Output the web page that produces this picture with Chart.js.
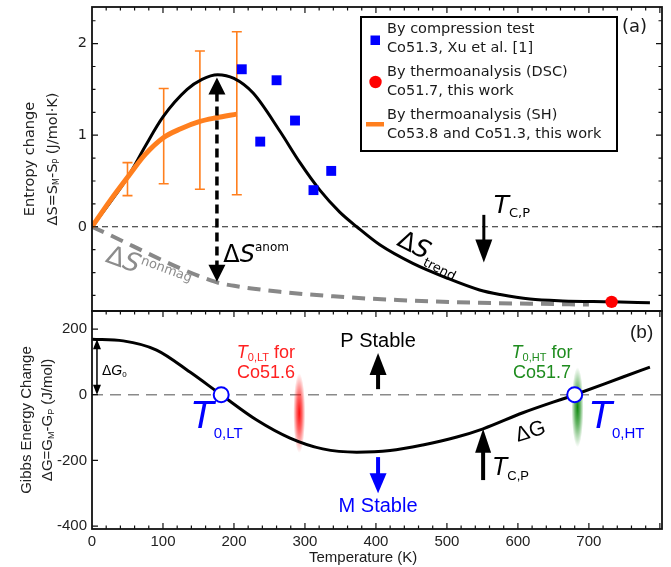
<!DOCTYPE html>
<html>
<head>
<meta charset="utf-8">
<script src="https://cdn.jsdelivr.net/npm/chart.js@4.4.0/dist/chart.umd.min.js"></script>
<style>
  body { margin: 0; background: #fff; }
  #wrap { position: relative; width: 671px; height: 567px; }
  canvas { position: absolute; left: 0; }
</style>
</head>
<body>
<div id="wrap">
  <canvas id="chartA" width="671" height="312" style="top:0"></canvas>
  <canvas id="chartB" width="671" height="257" style="top:310px"></canvas>
</div>
<script>
'use strict'

// (a) entropy change, J/mol.K against temperature, K
const trendT = [0, 25, 51, 75, 100, 134, 155, 177, 200, 227, 265, 293, 321, 349, 373, 406, 452, 500, 546, 575, 617, 663, 732, 786];
const trendS = [0, 0.26, 0.55, 0.88, 1.2, 1.5, 1.61, 1.66, 1.62, 1.46, 1.04, 0.70, 0.40, 0.16, 0, -0.20, -0.40, -0.56, -0.69, -0.74, -0.79, -0.81, -0.82, -0.83];
const nonmagT = [0, 173, 200, 265, 340, 430, 546, 617, 700];
const nonmagS = [0, -0.60, -0.645, -0.71, -0.76, -0.80, -0.83, -0.84, -0.85];
const shT = [0, 25, 51, 75, 100, 125, 152, 175, 204];
const shS = [0, 0.28, 0.55, 0.79, 0.97, 1.07, 1.15, 1.19, 1.23];
const errT = [50, 101, 152, 204];
const errLow = [0.34, 0.47, 0.41, 0.35];
const errHigh = [0.70, 1.51, 1.92, 2.13];
const compT = [211, 237, 260, 286, 312, 337];
const compS = [1.72, 0.93, 1.60, 1.16, 0.40, 0.61];
const dscT = [732];
const dscS = [-0.82];

// (b) Gibbs energy change, J/mol
const gibbsT = [0, 44, 91, 138, 182, 232, 279, 325, 373, 420, 466, 514, 551, 607, 680, 748, 786];
const gibbsG = [169, 164, 136, 69, 0, -77, -132, -165, -175, -170, -153, -129, -104, -55, 0, 54, 84];
const t0T = [182, 680];
const t0G = [0, 0];

const xTicks = [0, 100, 200, 300, 400, 500, 600, 700];
const yTicksA = [0, 1, 2];
const yTicksB = [-400, -200, 0, 200];

const FA = '"DejaVu Sans", sans-serif';
const FB = '"Liberation Sans", Arial, sans-serif';
const ORANGE = '#ff7f1e';
const BLUE = '#0000ff';

function pts(xs, ys) {
  return xs.map((v, i) => ({ x: v, y: ys[i] }));
}

function noPad(s) {
  s.paddingTop = 0;
  s.paddingBottom = 0;
  s.paddingLeft = 0;
  s.paddingRight = 0;
}

function rich(ctx, x, y, parts, align) {
  // parts: [text, font, dy]
  let w = 0;
  for (const p of parts) { ctx.font = p[1]; w += ctx.measureText(p[0]).width; }
  let cx = align === 'center' ? x - w / 2 : x;
  ctx.textAlign = 'left';
  ctx.textBaseline = 'alphabetic';
  for (const p of parts) {
    ctx.font = p[1];
    ctx.fillText(p[0], cx, y + (p[2] || 0));
    cx += ctx.measureText(p[0]).width;
  }
}

function rotRich(ctx, x, y, ang, dy, parts, color) {
  ctx.save();
  ctx.translate(x, y);
  ctx.rotate(ang);
  ctx.fillStyle = color;
  rich(ctx, 0, dy, parts, 'center');
  ctx.restore();
}

function head(ctx, tx, ty, bx, by, hw) {
  const a = Math.atan2(ty - by, tx - bx);
  ctx.beginPath();
  ctx.moveTo(tx, ty);
  ctx.lineTo(bx + hw * Math.sin(a), by - hw * Math.cos(a));
  ctx.lineTo(bx - hw * Math.sin(a), by + hw * Math.cos(a));
  ctx.closePath();
  ctx.fill();
}

function arrow(ctx, x1, y1, x2, y2, o) {
  const a = Math.atan2(y2 - y1, x2 - x1);
  const c = Math.cos(a), s = Math.sin(a);
  let sx = x1, sy = y1;
  if (o.both) { sx = x1 + (o.hl - 2) * c; sy = y1 + (o.hl - 2) * s; }
  const ex = x2 - (o.hl - 2) * c, ey = y2 - (o.hl - 2) * s;
  ctx.save();
  ctx.strokeStyle = o.color;
  ctx.fillStyle = o.color;
  ctx.lineWidth = o.lw;
  ctx.setLineDash(o.dash || []);
  ctx.beginPath();
  ctx.moveTo(sx, sy);
  ctx.lineTo(ex, ey);
  ctx.stroke();
  ctx.setLineDash([]);
  head(ctx, x2, y2, x2 - o.hl * c, y2 - o.hl * s, o.hw / 2);
  if (o.both) head(ctx, x1, y1, x1 + o.hl * c, y1 + o.hl * s, o.hw / 2);
  ctx.restore();
}

function blob(ctx, x, y, rx, ry, rgb) {
  ctx.save();
  ctx.translate(x, y);
  ctx.scale(rx / ry, 1);
  const g = ctx.createRadialGradient(0, 0, 0, 0, 0, ry);
  g.addColorStop(0, 'rgba(' + rgb + ',0.95)');
  g.addColorStop(0.45, 'rgba(' + rgb + ',0.6)');
  g.addColorStop(1, 'rgba(' + rgb + ',0)');
  ctx.fillStyle = g;
  ctx.beginPath();
  ctx.arc(0, 0, ry, 0, 2 * Math.PI);
  ctx.fill();
  ctx.restore();
}

function frame(chart, o) {
  const { ctx, chartArea: ca, scales: { x, y } } = chart;
  ctx.save();
  ctx.strokeStyle = '#111';
  ctx.lineWidth = 1.2;
  ctx.beginPath();
  for (let v = 20; v < x.max; v += 20) {
    const px = x.getPixelForValue(v);
    const len = v % 100 === 0 ? 6 : 3.5;
    if (o.top) { ctx.moveTo(px, ca.top); ctx.lineTo(px, ca.top + len); }
    if (o.bottom) { ctx.moveTo(px, ca.bottom); ctx.lineTo(px, ca.bottom - len); }
  }
  for (const t of o.yTicks) {
    const py = y.getPixelForValue(t.v);
    ctx.moveTo(ca.left, py); ctx.lineTo(ca.left + t.len, py);
    if (o.right) { ctx.moveTo(ca.right, py); ctx.lineTo(ca.right - t.len, py); }
  }
  ctx.stroke();
  ctx.lineWidth = 1.8;
  ctx.strokeRect(ca.left, ca.top, ca.right - ca.left, ca.bottom - ca.top);
  ctx.restore();
}

const panelA = {
  id: 'panelA',
  beforeDatasetsDraw(chart) {
    const { ctx, chartArea: ca, scales: { x, y } } = chart;
    ctx.save();
    ctx.strokeStyle = '#222';
    ctx.lineWidth = 1.1;
    ctx.setLineDash([6, 4]);
    ctx.beginPath();
    ctx.moveTo(ca.left, y.getPixelForValue(0));
    ctx.lineTo(ca.right, y.getPixelForValue(0));
    ctx.stroke();
    ctx.setLineDash([]);
    // error bars of the SH curve
    ctx.strokeStyle = ORANGE;
    ctx.lineWidth = 1.6;
    ctx.beginPath();
    for (let i = 0; i < errT.length; i++) {
      const px = x.getPixelForValue(errT[i]);
      const lo = y.getPixelForValue(errLow[i]), hi = y.getPixelForValue(errHigh[i]);
      ctx.moveTo(px, lo); ctx.lineTo(px, hi);
      ctx.moveTo(px - 5, lo); ctx.lineTo(px + 5, lo);
      ctx.moveTo(px - 5, hi); ctx.lineTo(px + 5, hi);
    }
    ctx.stroke();
    ctx.restore();
  },
  afterDatasetsDraw(chart) {
    const { ctx, scales: { x, y } } = chart;
    const X = v => x.getPixelForValue(v), Y = v => y.getPixelForValue(v);

    arrow(ctx, X(176), Y(1.63), X(176), Y(-0.60), { both: true, hl: 17, hw: 17, lw: 3.5, dash: [9, 5], color: '#000' });
    ctx.fillStyle = '#000';
    rich(ctx, X(185), Y(-0.385), [['Δ', '24px ' + FA], ['S', 'italic 24px ' + FA], ['anom', '12px ' + FA, -11]]);

    rotRich(ctx, X(80), Y(-0.45), 0.35, 9,
      [['Δ', '26px ' + FA], ['S', 'italic 26px ' + FA], ['nonmag', '13px ' + FA, -10]], '#8c8c8c');
    rotRich(ctx, X(476), Y(-0.275), 0.47, 9,
      [['Δ', '25px ' + FA], ['S', 'italic 25px ' + FA], ['trend', '13px ' + FA, 6]], '#000');

    arrow(ctx, X(552), Y(0.13), X(552), Y(-0.39), { hl: 23, hw: 17, lw: 3, color: '#000' });
    ctx.fillStyle = '#000';
    rich(ctx, X(566), Y(0.15), [['T', 'italic 25px ' + FA], ['C,P', '13px ' + FA, 4]]);
  },
  afterDraw(chart) {
    const { ctx, chartArea: ca } = chart;
    const yt = [];
    for (let v = -0.75; v <= 2.25; v += 0.25) yt.push({ v: v, len: Number.isInteger(v) ? 6 : 3.5 });
    frame(chart, { top: true, bottom: false, right: true, yTicks: yt });

    // legend
    ctx.save();
    ctx.lineWidth = 2;
    ctx.strokeStyle = '#000';
    ctx.strokeRect(361, 17, 256, 134);
    ctx.fillStyle = BLUE;
    ctx.fillRect(370.5, 35.5, 9.5, 9.5);
    ctx.fillStyle = '#ff0000';
    ctx.beginPath(); ctx.arc(375.5, 82, 6.2, 0, 2 * Math.PI); ctx.fill();
    ctx.fillStyle = ORANGE;
    ctx.fillRect(366, 122, 18, 4.5);
    ctx.fillStyle = '#1a1a1a';
    ctx.font = '14.5px ' + FA;
    ctx.textAlign = 'left';
    ctx.textBaseline = 'alphabetic';
    const lines = ['By compression test', 'Co51.3, Xu et al. [1]', 'By thermoanalysis (DSC)',
      'Co51.7, this work', 'By thermoanalysis (SH)', 'Co53.8 and Co51.3, this work'];
    const base = [33, 52, 76, 95, 119, 138];
    lines.forEach((t, i) => ctx.fillText(t, 387, base[i]));
    ctx.font = '18px ' + FA;
    ctx.fillText('(a)', ca.right - 40, 32);

    // y title
    ctx.translate(29, (ca.top + ca.bottom) / 2);
    ctx.rotate(-Math.PI / 2);
    ctx.fillStyle = '#222';
    rich(ctx, 0, 5, [['Entropy change', '14.5px ' + FA]], 'center');
    rich(ctx, 0, 28, [['ΔS=S', '14.5px ' + FA], ['M', '8px ' + FA, 2], ['-S', '14.5px ' + FA],
      ['P', '8px ' + FA, 2], [' (J/mol·K)', '14.5px ' + FA]], 'center');
    ctx.restore();
  }
};

const panelB = {
  id: 'panelB',
  beforeDatasetsDraw(chart) {
    const { ctx, chartArea: ca, scales: { x, y } } = chart;
    const X = v => x.getPixelForValue(v), Y = v => y.getPixelForValue(v);
    ctx.save();
    ctx.strokeStyle = '#8a8a8a';
    ctx.lineWidth = 1.5;
    ctx.setLineDash([11, 7]);
    ctx.beginPath();
    ctx.moveTo(ca.left, Y(0));
    ctx.lineTo(ca.right, Y(0));
    ctx.stroke();
    ctx.restore();
    blob(ctx, X(292), Y(-56), 6, 40, '255,0,0');
    blob(ctx, X(684), Y(-38), 6, 40, '0,130,0');
  },
  afterDatasetsDraw(chart) {
    const { ctx, scales: { x, y } } = chart;
    const X = v => x.getPixelForValue(v), Y = v => y.getPixelForValue(v);

    arrow(ctx, X(7), Y(169), X(7), Y(0), { both: true, hl: 10, hw: 8, lw: 1.5, color: '#000' });
    ctx.fillStyle = '#000';
    rich(ctx, X(14), Y(60), [['Δ', '14px ' + FB], ['G', 'italic 14px ' + FB], ['0', '8px ' + FB, 2]]);

    ctx.fillStyle = BLUE;
    rich(ctx, X(138), Y(-101), [['T', 'italic 39px ' + FB], ['0,LT', '15px ' + FB, 10]]);
    rich(ctx, X(699), Y(-101), [['T', 'italic 39px ' + FB], ['0,HT', '15px ' + FB, 10]]);

    ctx.fillStyle = '#ff2020';
    rich(ctx, X(245), Y(112), [['T', 'italic 18px ' + FB], ['0,LT', '11px ' + FB, 3], [' for', '18px ' + FB]], 'center');
    rich(ctx, X(245), Y(51), [['Co51.6', '18px ' + FB]], 'center');
    ctx.fillStyle = '#1e8c1e';
    rich(ctx, X(634), Y(112), [['T', 'italic 18px ' + FB], ['0,HT', '11px ' + FB, 3], [' for', '18px ' + FB]], 'center');
    rich(ctx, X(634), Y(51), [['Co51.7', '18px ' + FB]], 'center');

    ctx.fillStyle = '#000';
    rich(ctx, X(403), Y(146), [['P Stable', '20px ' + FB]], 'center');
    arrow(ctx, X(403), Y(17), X(403), Y(127), { hl: 22, hw: 17, lw: 4, color: '#000' });
    ctx.fillStyle = BLUE;
    rich(ctx, X(403), Y(-357), [['M Stable', '20px ' + FB]], 'center');
    arrow(ctx, X(403), Y(-190), X(403), Y(-300), { hl: 20, hw: 17, lw: 4, color: BLUE });

    arrow(ctx, X(551), Y(-260), X(551), Y(-104), { hl: 24, hw: 16, lw: 4, color: '#000' });
    ctx.fillStyle = '#000';
    rich(ctx, X(563.5), Y(-245), [['T', 'italic 25px ' + FB], ['C,P', '13px ' + FB, 5]]);

    rotRich(ctx, X(617), Y(-107), -0.3, 8, [['ΔG', '21px ' + FB]], '#000');
  },
  afterDraw(chart) {
    const { ctx, chartArea: ca, scales: { x } } = chart;
    frame(chart, { top: true, bottom: true, right: false, yTicks: yTicksB.map(v => ({ v: v, len: 6 })) });
    ctx.save();
    ctx.fillStyle = '#1a1a1a';
    ctx.font = '19px ' + FB;
    ctx.textAlign = 'left';
    ctx.fillText('(b)', ca.right - 32, 28);
    ctx.font = '15px ' + FB;
    ctx.textAlign = 'center';
    ctx.fillText('Temperature (K)', x.getPixelForValue(382), 252);
    ctx.translate(26, (ca.top + ca.bottom) / 2);
    ctx.rotate(-Math.PI / 2);
    ctx.fillStyle = '#222';
    rich(ctx, 0, 5, [['Gibbs Energy Change', '15px ' + FB]], 'center');
    rich(ctx, 0, 26, [['ΔG=G', '15px ' + FB], ['M', '9px ' + FB, 2], ['-G', '15px ' + FB],
      ['P', '9px ' + FB, 2], [' (J/mol)', '15px ' + FB]], 'center');
    ctx.restore();
  }
};

let ctxA = document.getElementById('chartA');

new Chart(ctxA, {
  type: 'scatter',
  data: {
    datasets: [{
      label: 'By thermoanalysis (DSC)',
      data: pts(dscT, dscS),
      pointStyle: 'circle',
      pointRadius: 6.2,
      backgroundColor: '#ff0000',
      borderWidth: 0
    }, {
      label: 'By compression test',
      data: pts(compT, compS),
      pointStyle: 'rect',
      pointRadius: 7,
      backgroundColor: BLUE,
      borderWidth: 0
    }, {
      label: 'By thermoanalysis (SH)',
      data: pts(shT, shS),
      showLine: true,
      borderColor: ORANGE,
      borderWidth: 5,
      pointRadius: 0,
      cubicInterpolationMode: 'monotone'
    }, {
      label: 'trend',
      data: pts(trendT, trendS),
      showLine: true,
      borderColor: '#000',
      borderWidth: 3,
      pointRadius: 0,
      cubicInterpolationMode: 'monotone'
    }, {
      label: 'nonmag',
      data: pts(nonmagT, nonmagS),
      showLine: true,
      borderColor: '#888',
      borderWidth: 4,
      borderDash: [13, 8],
      pointRadius: 0,
      cubicInterpolationMode: 'monotone'
    }]
  },
  options: {
    responsive: false,
    animation: false,
    devicePixelRatio: 1,
    layout: { autoPadding: false, padding: { top: 7, right: 9, bottom: 1, left: 0 } },
    plugins: { legend: { display: false }, tooltip: { enabled: false } },
    scales: {
      x: { type: 'linear', min: 0, max: 803, display: false },
      y: {
        type: 'linear',
        min: -0.92,
        max: 2.4,
        grid: { display: false, drawTicks: false },
        border: { display: false },
        afterBuildTicks: s => { s.ticks = yTicksA.map(v => ({ value: v })); },
        afterFit: s => { s.width = 92; noPad(s); },
        ticks: { padding: 5, color: '#222', font: { family: 'DejaVu Sans', size: 14.5 } }
      }
    }
  },
  plugins: [panelA]
});

let ctxB = document.getElementById('chartB');

new Chart(ctxB, {
  type: 'scatter',
  data: {
    datasets: [{
      label: 'T0',
      data: pts(t0T, t0G),
      pointRadius: 7.5,
      borderWidth: 2,
      borderColor: BLUE,
      backgroundColor: '#fff'
    }, {
      label: 'ΔG',
      data: pts(gibbsT, gibbsG),
      showLine: true,
      borderColor: '#000',
      borderWidth: 3,
      pointRadius: 0,
      cubicInterpolationMode: 'monotone'
    }]
  },
  options: {
    responsive: false,
    animation: false,
    devicePixelRatio: 1,
    layout: { autoPadding: false, padding: { top: 1, right: 9, bottom: 0, left: 0 } },
    plugins: { legend: { display: false }, tooltip: { enabled: false } },
    scales: {
      x: {
        type: 'linear',
        min: 0,
        max: 803,
        grid: { display: false, drawTicks: false },
        border: { display: false },
        afterBuildTicks: s => { s.ticks = xTicks.map(v => ({ value: v })); },
        afterFit: s => { s.height = 38; noPad(s); },
        ticks: { padding: 4, maxRotation: 0, color: '#222', font: { family: 'Liberation Sans', size: 15 } }
      },
      y: {
        type: 'linear',
        min: -409,
        max: 255,
        grid: { display: false, drawTicks: false },
        border: { display: false },
        afterBuildTicks: s => { s.ticks = yTicksB.map(v => ({ value: v })); },
        afterFit: s => { s.width = 92; noPad(s); },
        ticks: { padding: 5, color: '#222', font: { family: 'Liberation Sans', size: 15 } }
      }
    }
  },
  plugins: [panelB]
});
</script>
</body>
</html>
